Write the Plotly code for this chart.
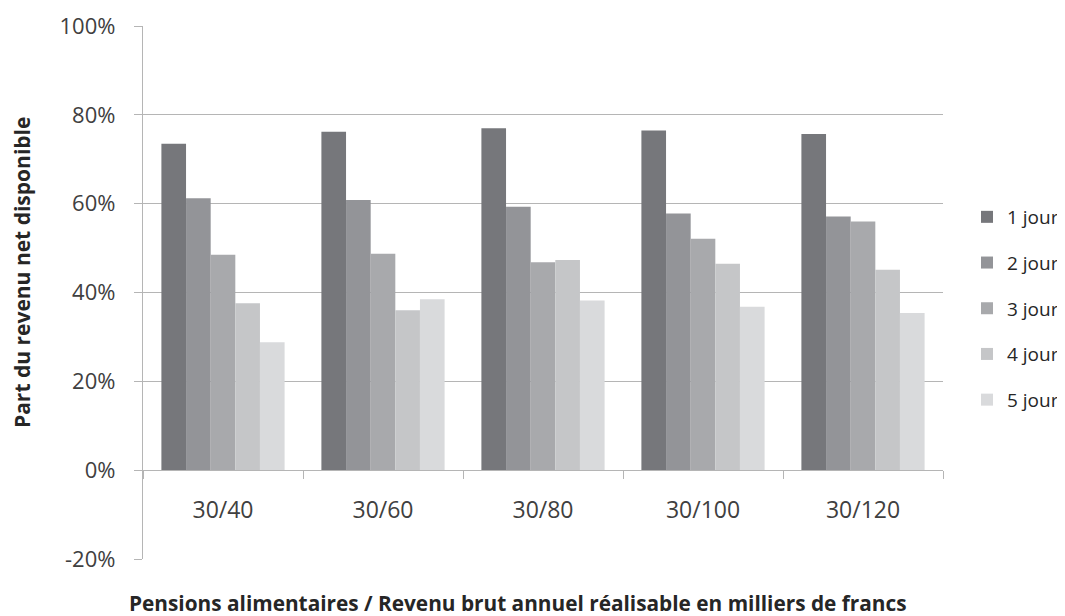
import plotly.graph_objects as go

# Parts du revenu net disponible (%), par nombre de jours
categories = ['30/40', '30/60', '30/80', '30/100', '30/120']
series_names = ['1 jour', '2 jour', '3 jour', '4 jour', '5 jour']
jour1 = [73.5, 76.2, 77.0, 76.5, 75.7]
jour2 = [61.2, 60.8, 59.3, 57.8, 57.1]
jour3 = [48.5, 48.7, 46.8, 52.1, 56.0]
jour4 = [37.6, 36.0, 47.3, 46.5, 45.1]
jour5 = [28.8, 38.5, 38.2, 36.8, 35.4]
y_ticks = [-20, 0, 20, 40, 60, 80, 100]
y_labels = ['-20%', '0%', '20%', '40%', '60%', '80%', '100%']

colors = ['#76777b', '#939498', '#a8a9ac', '#c5c6c8', '#d9dadc']
FONT = 'Open Sans'

fig = go.Figure()
for name, vals, col in zip(series_names, [jour1, jour2, jour3, jour4, jour5], colors):
    fig.add_trace(go.Bar(x=categories, y=vals, name=name, legendgroup=name,
                         marker=dict(color=col, line=dict(width=0))))

# the page body has an 8px margin, so the figure is a bit smaller and shifted
fig.update_layout(
    width=1057, height=608,
    margin=dict(l=135, r=122, t=18, b=57, autoexpand=False),
    plot_bgcolor='white', paper_bgcolor='white',
    font=dict(family=FONT, size=20, color='#404040'),
    barmode='group', bargap=0.23, bargroupgap=0,
    showlegend=True,
    legend=dict(x=1.03, xanchor='left', y=0.47, yanchor='middle',
                font=dict(size=19, color='#262626'),
                tracegroupgap=18, traceorder='grouped',
                bgcolor='rgba(0,0,0,0)'),
)

fig.update_yaxes(range=[-20, 100], tickvals=y_ticks, ticktext=y_labels,
                 showgrid=True, gridcolor='#b5b5b5', gridwidth=1.3,
                 showline=True, linecolor='#b5b5b5', linewidth=1.3,
                 ticks='outside', ticklen=8, tickcolor='#b5b5b5',
                 ticklabelstandoff=14, zeroline=False, automargin=False,
                 tickfont=dict(size=22, color='#404040'))

fig.update_xaxes(anchor='free', position=1/6, showline=True, linecolor='#b5b5b5', linewidth=1.3,
                 ticks='outside', ticklen=8, tickcolor='#b5b5b5', tickson='boundaries',
                 ticklabelstandoff=19, showgrid=False, automargin=False,
                 tickfont=dict(size=23, color='#404040'))

fig.add_annotation(text='<b>Pensions alimentaires / Revenu brut annuel réalisable en milliers de francs</b>',
                   xref='paper', yref='paper', x=(518 - 143) / 800, y=-44 / 533,
                   xanchor='center', yanchor='middle', showarrow=False,
                   font=dict(size=20.8, color='#262626', family=FONT))
fig.add_annotation(text='<b>Part du revenu net disponible</b>',
                   xref='paper', yref='paper', x=(22 - 143) / 800, y=(559 - 273) / 533,
                   xanchor='center', yanchor='middle', textangle=-90, showarrow=False,
                   font=dict(size=21, color='#262626', family=FONT))

fig.write_html('out.html')
